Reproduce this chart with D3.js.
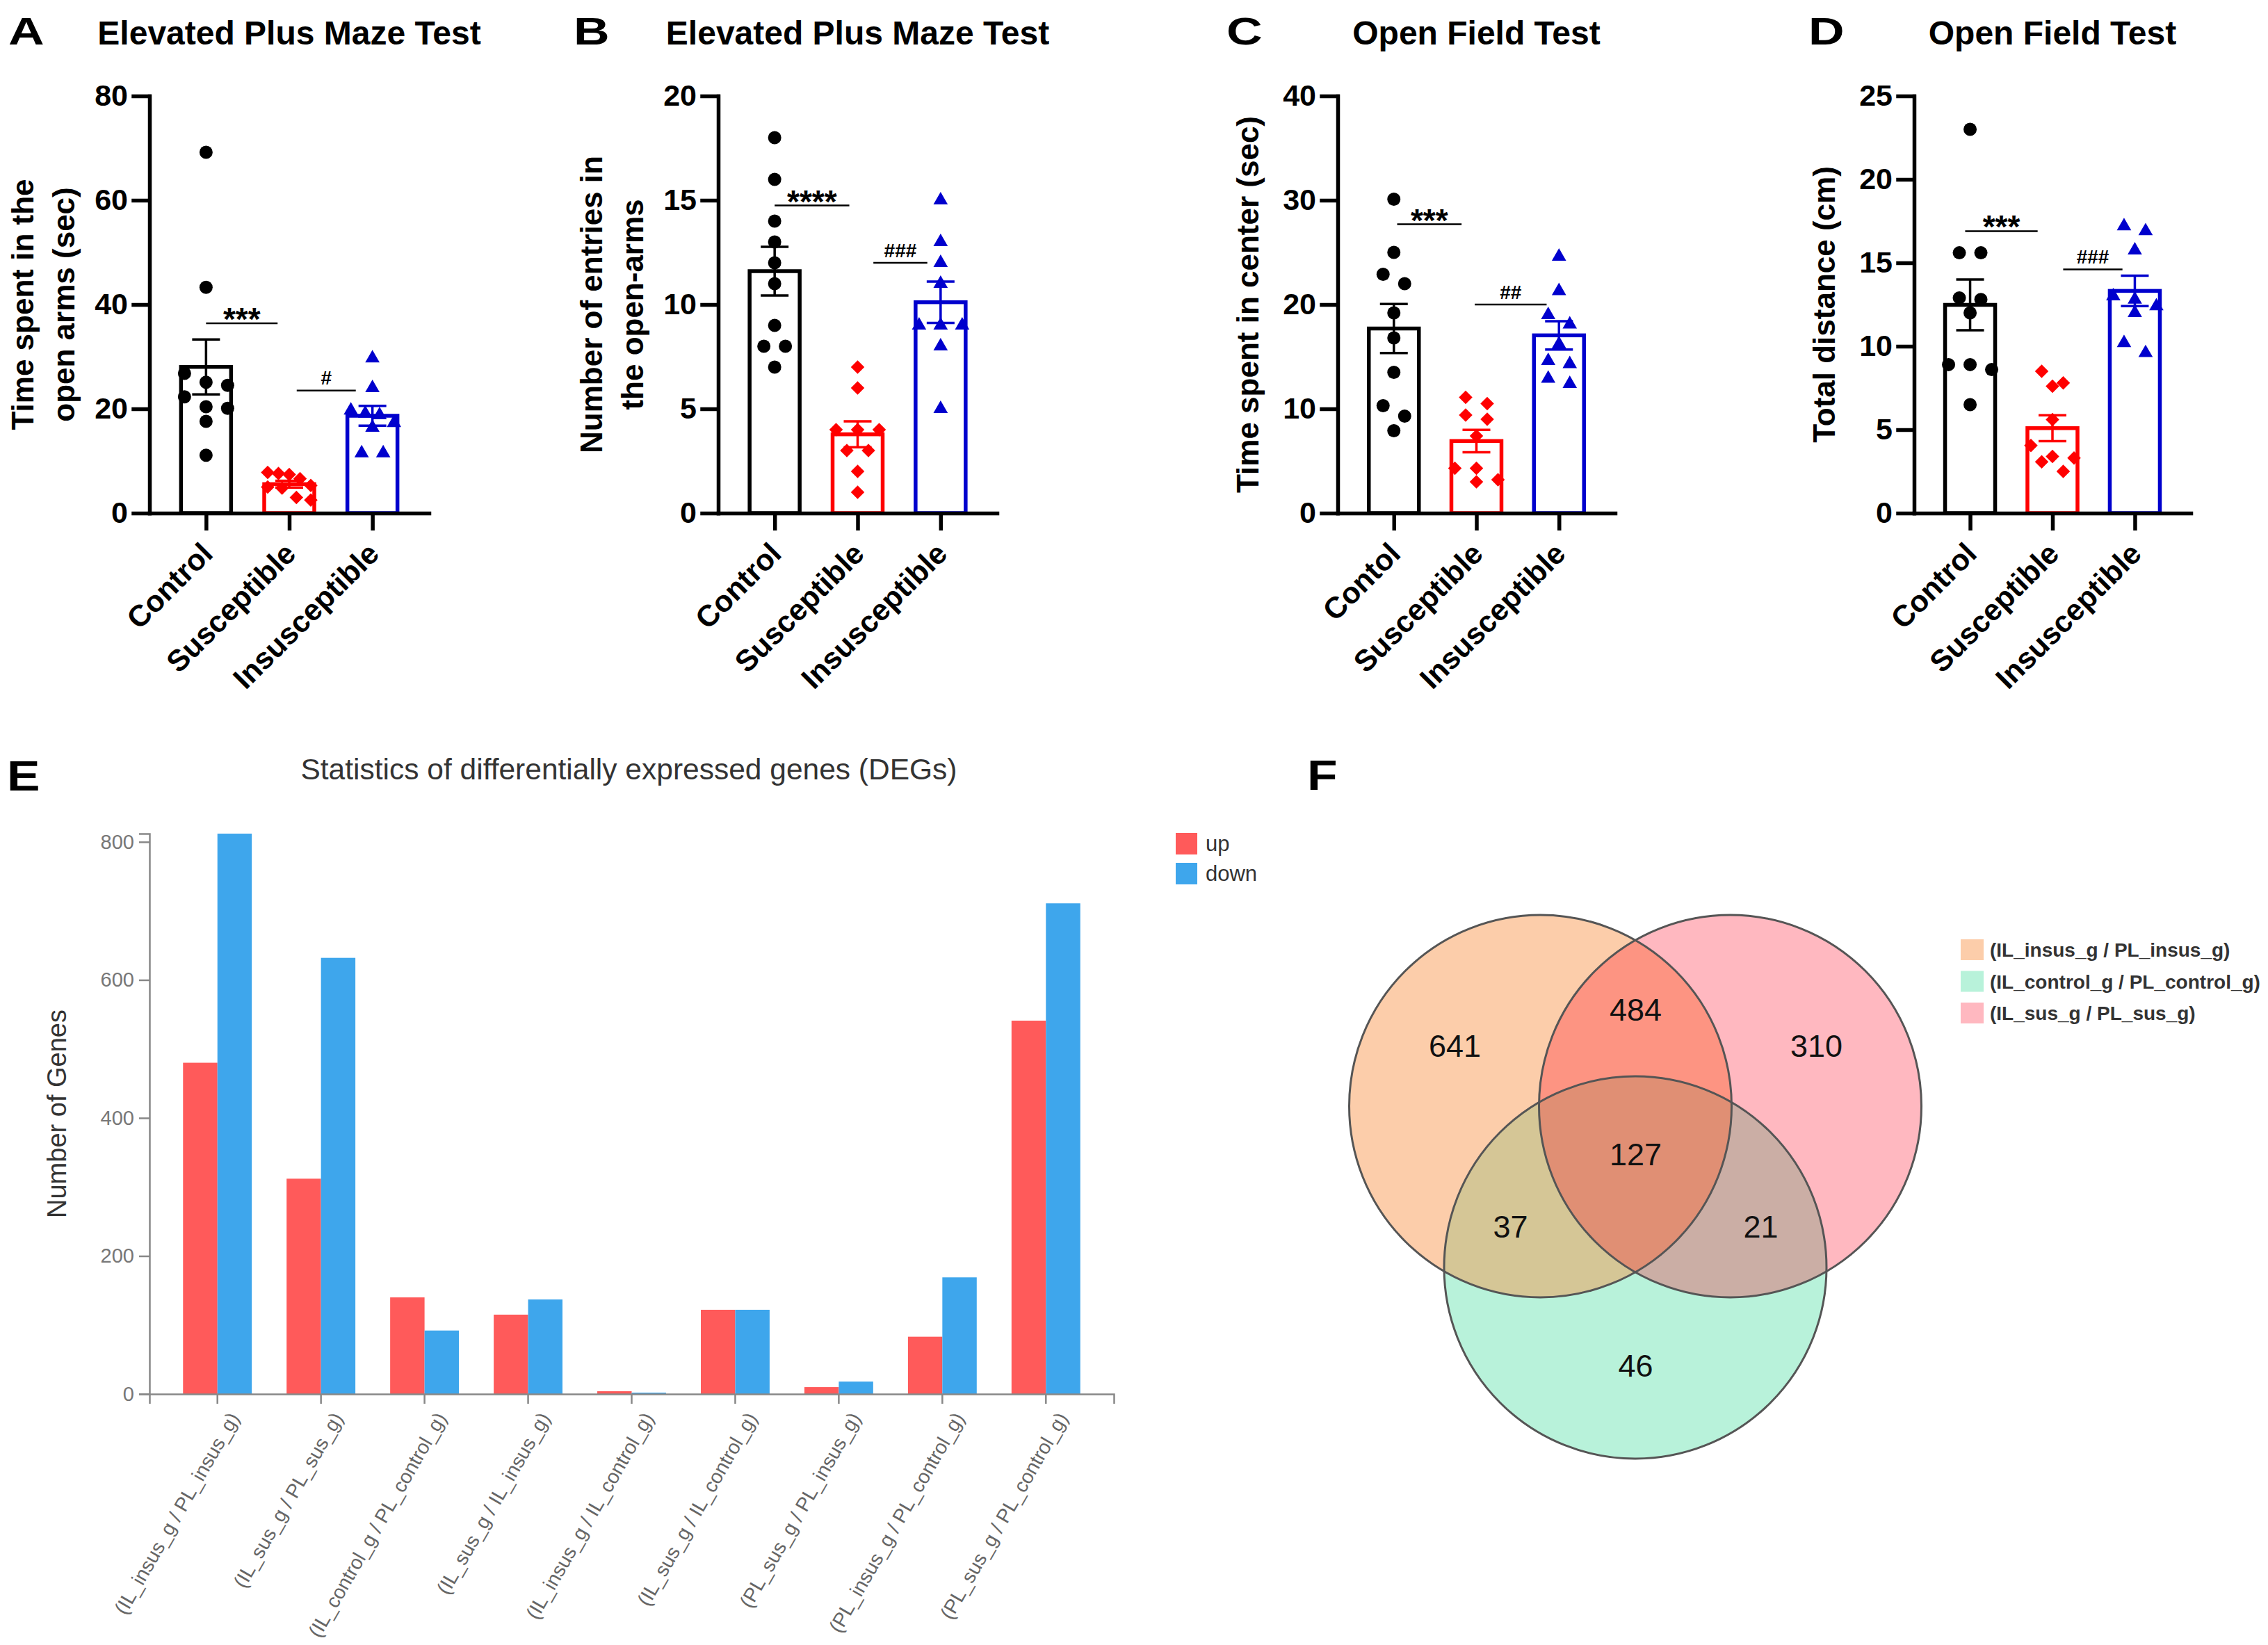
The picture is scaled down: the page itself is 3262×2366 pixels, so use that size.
<!DOCTYPE html>
<html><head><meta charset="utf-8">
<script src="https://cdn.jsdelivr.net/npm/d3@7"></script>
<style>
body{margin:0;background:#fff}
text{font-family:'Liberation Sans',Arial,Helvetica,sans-serif}
</style></head><body>
<script>
// ---------------- DATA ----------------
const catsStd = ["Control", "Susceptible", "Insusceptible"];
const catsC = ["Contol", "Susceptible", "Insusceptible"];

// A: Elevated plus maze, time in open arms (sec)
const epmTimeCtrl = [69.2, 43.3, 26.8, 25.1, 24.5, 22.3, 20.4, 20.1, 17.6, 11.1];
const epmTimeSus = [7.8, 7.6, 7.4, 6.6, 5.3, 5.0, 4.8, 3.0, 2.5];
const epmTimeInsus = [29.7, 24.0, 19.7, 19.1, 18.8, 17.3, 16.4, 11.5, 11.5];
// B: Elevated plus maze, entries in open arms
const epmEntryCtrl = [18, 16, 14, 13, 12, 11, 9, 8, 8, 7];
const epmEntrySus = [7, 6, 4, 4, 4, 3, 3, 2, 1];
const epmEntryInsus = [15, 13, 12, 11, 9, 9, 9, 8, 5];
// C: Open field, time in center (sec)
const oftCenterCtrl = [30.1, 25.0, 22.9, 22.0, 19.2, 16.8, 13.5, 10.3, 9.3, 7.9];
const oftCenterSus = [11.1, 10.5, 9.4, 9.0, 7.4, 4.3, 4.3, 3.2, 3.0];
const oftCenterInsus = [24.6, 21.3, 19.0, 18.1, 16.2, 14.6, 14.3, 12.9, 12.4];
// D: Open field, total distance (cm)
const oftDistCtrl = [23.0, 15.6, 15.6, 12.9, 12.8, 12.0, 8.9, 8.9, 8.6, 6.5];
const oftDistSus = [8.5, 7.8, 7.6, 5.6, 4.05, 3.4, 3.3, 3.07, 2.5];
const oftDistInsus = [17.2, 16.9, 15.75, 13.0, 12.8, 12.4, 12.0, 10.2, 9.6];

const ticksA = [0, 20, 40, 60, 80];
const ticksB = [0, 5, 10, 15, 20];
const ticksC = [0, 10, 20, 30, 40];
const ticksD = [0, 5, 10, 15, 20, 25];

// significance bars: category-index span and height in data units
const sigA = [{text: "***", from: 0, to: 0.86, y: 36.4}, {text: "#", from: 1.09, to: 1.8, y: 23.5}];
const sigB = [{text: "****", from: 0, to: 0.9, y: 14.75}, {text: "###", from: 1.19, to: 1.84, y: 12}];
const sigC = [{text: "***", from: 0.04, to: 0.82, y: 27.7}, {text: "##", from: 0.98, to: 1.85, y: 20}];
const sigD = [{text: "***", from: -0.06, to: 0.82, y: 16.9}, {text: "###", from: 1.13, to: 1.85, y: 14.6}];

// E: DEG statistics
const degCats = ["(IL_insus_g / PL_insus_g)", "(IL_sus_g / PL_sus_g)", "(IL_control_g / PL_control_g)",
  "(IL_sus_g / IL_insus_g)", "(IL_insus_g / IL_control_g)", "(IL_sus_g / IL_control_g)",
  "(PL_sus_g / PL_insus_g)", "(PL_insus_g / PL_control_g)", "(PL_sus_g / PL_control_g)"];
const degUp = [480, 312, 140, 115, 4, 122, 10, 83, 541];
const degDown = [812, 632, 92, 137, 2, 122, 18, 169, 711];
const degTicks = [0, 200, 400, 600, 800];
const degSeries = ["up", "down"];

// F: Venn
const vennSets = ["(IL_insus_g / PL_insus_g)", "(IL_control_g / PL_control_g)", "(IL_sus_g / PL_sus_g)"];
const vennRegionMembers = [[0], [2], [1], [0, 2], [0, 1], [1, 2], [0, 1, 2]];
const vennRegionCounts = [641, 310, 46, 484, 37, 21, 127];

// ---------------- DRAW ----------------
const W = 3262, H = 2366;
const svg = d3.select("body").append("svg").attr("width", W).attr("height", H).attr("viewBox", `0 0 ${W} ${H}`);
svg.append("rect").attr("width", W).attr("height", H).attr("fill", "#fff");

const groupColors = ["#000000", "#FF0000", "#0000CD"];
const groupShapes = ["circle", "diamond", "triangle"];

function markerPath(shape) {
  if (shape === "circle") return d3.symbol().type(d3.symbolCircle).size(Math.PI * 9.5 * 9.5)();
  if (shape === "diamond") return d3.symbol().type(d3.symbolSquare).size(190)();
  return d3.symbol().type(d3.symbolTriangle).size(185)();
}

// Prism-like column scatter: group close values into rows, centre each row
function scatterRows(vals, y, rowH = 19, s = 31, maxW = 62) {
  const sorted = d3.sort(vals, d3.descending);
  const out = [];
  let i = 0;
  while (i < sorted.length) {
    const y0 = y(sorted[i]);
    const row = [sorted[i]];
    let j = i + 1;
    while (j < sorted.length && Math.abs(y(sorted[j]) - y0) < rowH) { row.push(sorted[j]); j++; }
    const n = row.length;
    const sp = n > 1 ? Math.min(s, maxW / (n - 1)) : 0;
    row.forEach((v, k) => out.push({v, dx: (k - (n - 1) / 2) * sp}));
    i = j;
  }
  return out;
}

function prismPanel(c) {
  const top = 138, bottom = 738;
  const y = d3.scaleLinear().domain([0, d3.max(c.ticks)]).range([bottom, top]);
  const x = d3.scalePoint().domain([0, 1, 2]).range([c.axisX, c.xEnd]).padding(0.68);
  const step = x.step();
  const g = svg.append("g");

  g.append("text").attr("transform", `translate(${c.letterX},64) scale(1.3,1)`)
    .attr("font-size", 55).attr("font-weight", 700).text(c.letter);
  g.append("text").attr("x", (c.axisX + c.xEnd) / 2).attr("y", 64).attr("text-anchor", "middle")
    .attr("font-size", 48).attr("font-weight", 700).text(c.title);

  const stats = c.series.map(v => ({m: d3.mean(v), se: d3.deviation(v) / Math.sqrt(v.length)}));

  g.selectAll("rect.bar").data(stats).join("rect").attr("class", "bar")
    .attr("x", (d, i) => x(i) - 36).attr("width", 72)
    .attr("y", d => y(d.m)).attr("height", d => bottom - y(d.m))
    .attr("fill", "#fff").attr("stroke", (d, i) => groupColors[i]).attr("stroke-width", 5.5);

  c.series.forEach((vals, i) => {
    const pts = scatterRows(vals, y);
    g.selectAll(null).data(pts).join("path")
      .attr("d", markerPath(groupShapes[i]))
      .attr("transform", d => `translate(${x(i) + d.dx},${y(d.v)})${groupShapes[i] === "diamond" ? " rotate(45)" : ""}`)
      .attr("fill", groupColors[i]);
  });

  stats.forEach((d, i) => {
    const cx = x(i), col = groupColors[i];
    g.append("line").attr("x1", cx).attr("x2", cx).attr("y1", y(d.m - d.se)).attr("y2", y(d.m + d.se))
      .attr("stroke", col).attr("stroke-width", 3.5);
    [d.m - d.se, d.m + d.se].forEach(v => g.append("line").attr("x1", cx - 20).attr("x2", cx + 20)
      .attr("y1", y(v)).attr("y2", y(v)).attr("stroke", col).attr("stroke-width", 3.5));
  });

  const ya = g.append("g").attr("transform", `translate(${c.axisX},0)`)
    .call(d3.axisLeft(y).tickValues(c.ticks).tickSize(23).tickSizeOuter(0).tickPadding(8));
  ya.selectAll("path,line").attr("stroke", "#000").attr("stroke-width", 5.5).attr("stroke-linecap", "square");
  ya.selectAll("text").attr("font-size", 43).attr("font-weight", 700).attr("fill", "#000");

  const xa = g.append("g").attr("transform", `translate(0,${bottom})`)
    .call(d3.axisBottom(x).tickSize(25).tickSizeOuter(0).tickFormat(() => ""));
  xa.selectAll("path,line").attr("stroke", "#000").attr("stroke-width", 5.5);
  xa.select(".domain").attr("stroke-linecap", "square");

  c.cats.forEach((t, i) => {
    g.append("text").attr("transform", `translate(${x(i) + 12},799) rotate(-45)`)
      .attr("text-anchor", "end").attr("font-size", 43).attr("font-weight", 700).text(t);
  });

  const cy = (top + bottom) / 2;
  const offs = c.yLabel.length === 2 ? [167, 108] : [114];
  c.yLabel.forEach((t, k) => {
    g.append("text").attr("transform", `translate(${c.axisX - offs[k]},${cy}) rotate(-90)`)
      .attr("text-anchor", "middle").attr("font-size", 44).attr("font-weight", 700).text(t);
  });

  const x0 = x(0);
  c.sig.forEach(s => {
    const xa1 = x0 + s.from * step, xa2 = x0 + s.to * step, ly = y(s.y);
    g.append("line").attr("x1", xa1).attr("x2", xa2).attr("y1", ly).attr("y2", ly)
      .attr("stroke", "#000").attr("stroke-width", 2.5);
    const isStar = s.text.includes("*");
    g.append("text").attr("x", (xa1 + xa2) / 2).attr("y", isStar ? ly + 10 : ly - 8.5)
      .attr("text-anchor", "middle").attr("font-weight", 700)
      .attr("font-size", isStar ? 46 : 28).text(s.text);
  });
}

prismPanel({letter: "A", letterX: 12, axisX: 215, xEnd: 617, cats: catsStd,
  series: [epmTimeCtrl, epmTimeSus, epmTimeInsus], ticks: ticksA,
  yLabel: ["Time spent in the", "open arms (sec)"], title: "Elevated Plus Maze Test", sig: sigA});
prismPanel({letter: "B", letterX: 825, axisX: 1033, xEnd: 1434, cats: catsStd,
  series: [epmEntryCtrl, epmEntrySus, epmEntryInsus], ticks: ticksB,
  yLabel: ["Number of entries in", "the open-arms"], title: "Elevated Plus Maze Test", sig: sigB});
prismPanel({letter: "C", letterX: 1764, axisX: 1924, xEnd: 2323, cats: catsC,
  series: [oftCenterCtrl, oftCenterSus, oftCenterInsus], ticks: ticksC,
  yLabel: ["Time spent in center (sec)"], title: "Open Field Test", sig: sigC});
prismPanel({letter: "D", letterX: 2601, axisX: 2753, xEnd: 3151, cats: catsStd,
  series: [oftDistCtrl, oftDistSus, oftDistInsus], ticks: ticksD,
  yLabel: ["Total distance (cm)"], title: "Open Field Test", sig: sigD});

// ---------- Panel E ----------
(function () {
  const g = svg.append("g");
  const left = 215, right = 1602, base = 2005;
  const yE = d3.scaleLinear().domain([0, d3.max(degUp.concat(degDown))]).range([base, 1199]);
  const xE = d3.scaleBand().domain(degCats).range([left, right]).paddingInner(0.336).paddingOuter(0.324);
  const xSub = d3.scaleBand().domain(degSeries).range([0, xE.bandwidth()]);
  const colE = {up: "#FF5A5A", down: "#3EA6EC"};

  g.append("text").attr("transform", "translate(10,1137) scale(1.15,1)").attr("font-size", 62).attr("font-weight", 700).text("E");
  g.append("text").attr("x", (left + right) / 2 - 4).attr("y", 1121).attr("text-anchor", "middle")
    .attr("font-size", 42.5).attr("fill", "#333").text("Statistics of differentially expressed genes (DEGs)");

  const rows = degCats.map((c, i) => ({c, up: degUp[i], down: degDown[i]}));
  rows.forEach(r => {
    degSeries.forEach(s => {
      g.append("rect").attr("x", xE(r.c) + xSub(s)).attr("width", xSub.bandwidth())
        .attr("y", yE(r[s])).attr("height", base - yE(r[s])).attr("fill", colE[s]);
    });
  });

  const ya = g.append("g").attr("transform", `translate(${left},0)`)
    .call(d3.axisLeft(yE).tickValues(degTicks).tickSize(15).tickSizeOuter(15).tickPadding(7));
  ya.selectAll("path,line").attr("stroke", "#888").attr("stroke-width", 2.5);
  ya.selectAll("text").attr("font-size", 29).attr("fill", "#777");

  const xa = g.append("g").attr("transform", `translate(0,${base})`)
    .call(d3.axisBottom(xE).tickSize(14).tickSizeOuter(14).tickFormat(() => ""));
  xa.selectAll("path,line").attr("stroke", "#888").attr("stroke-width", 2.5);

  degCats.forEach(c => {
    const cx = xE(c) + xE.bandwidth() / 2;
    g.append("text").attr("transform", `translate(${cx + 24},2034) rotate(-60)`)
      .attr("text-anchor", "end").attr("dy", "0.35em").attr("font-size", 28.5).attr("fill", "#666").text(c);
  });

  g.append("text").attr("transform", `translate(95,${(base + 1199) / 2}) rotate(-90)`)
    .attr("text-anchor", "middle").attr("font-size", 38).attr("fill", "#333").text("Number of Genes");

  degSeries.forEach((s, i) => {
    g.append("rect").attr("x", 1691).attr("y", 1198 + i * 43).attr("width", 31).attr("height", 31).attr("fill", colE[s]);
    g.append("text").attr("x", 1734).attr("y", 1224 + i * 43).attr("font-size", 31).attr("fill", "#333").text(s);
  });
})();

// ---------- Panel F ----------
(function () {
  const g = svg.append("g");
  g.append("text").attr("transform", "translate(1880,1136) scale(1.15,1)").attr("font-size", 62).attr("font-weight", 700).text("F");
  const cxV = 2352, cyV = 1591, r = 275, dx = 136.5, dy = 232;
  const circles = [{x: cxV - dx, y: cyV}, {x: cxV, y: cyV + dy}, {x: cxV + dx, y: cyV}];
  const colV = ["#F89042", "#71E5B5", "#FF001D"];
  const alphaV = [0.45, 0.5, 0.28];
  [1, 0, 2].forEach(i => {
    g.append("circle").attr("cx", circles[i].x).attr("cy", circles[i].y).attr("r", r)
      .attr("fill", colV[i]).attr("fill-opacity", alphaV[i]);
  });
  circles.forEach(c => g.append("circle").attr("cx", c.x).attr("cy", c.y).attr("r", r)
    .attr("fill", "none").attr("stroke", "#555").attr("stroke-width", 3));

  // label position: most interior grid point of each region
  const x0 = d3.min(circles, c => c.x) - r, x1 = d3.max(circles, c => c.x) + r;
  const y0 = d3.min(circles, c => c.y) - r, y1 = d3.max(circles, c => c.y) + r;
  vennRegionMembers.forEach((mem, k) => {
    let best = null, bestS = -1;
    for (let px = x0; px <= x1; px += 4) {
      for (let py = y0; py <= y1; py += 4) {
        let ok = true, s = Infinity;
        circles.forEach((c, i) => {
          const d = Math.hypot(px - c.x, py - c.y);
          const inside = d < r;
          if (inside !== mem.includes(i)) ok = false;
          s = Math.min(s, Math.abs(d - r));
        });
        if (ok && s > bestS) { bestS = s; best = [px, py]; }
      }
    }
    g.append("text").attr("x", best[0]).attr("y", best[1] - 8).attr("dy", "0.35em").attr("text-anchor", "middle")
      .attr("font-size", 45).attr("fill", "#111").text(vennRegionCounts[k]);
  });

  vennSets.forEach((s, i) => {
    g.append("rect").attr("x", 2820).attr("y", 1351 + i * 45.5).attr("width", 33).attr("height", 30)
      .attr("fill", colV[i]).attr("fill-opacity", alphaV[i]);
    g.append("text").attr("x", 2862).attr("y", 1376 + i * 45.5).attr("font-size", 28).attr("font-weight", 700)
      .attr("fill", "#333").text(s);
  });
})();
</script>
</body></html>
